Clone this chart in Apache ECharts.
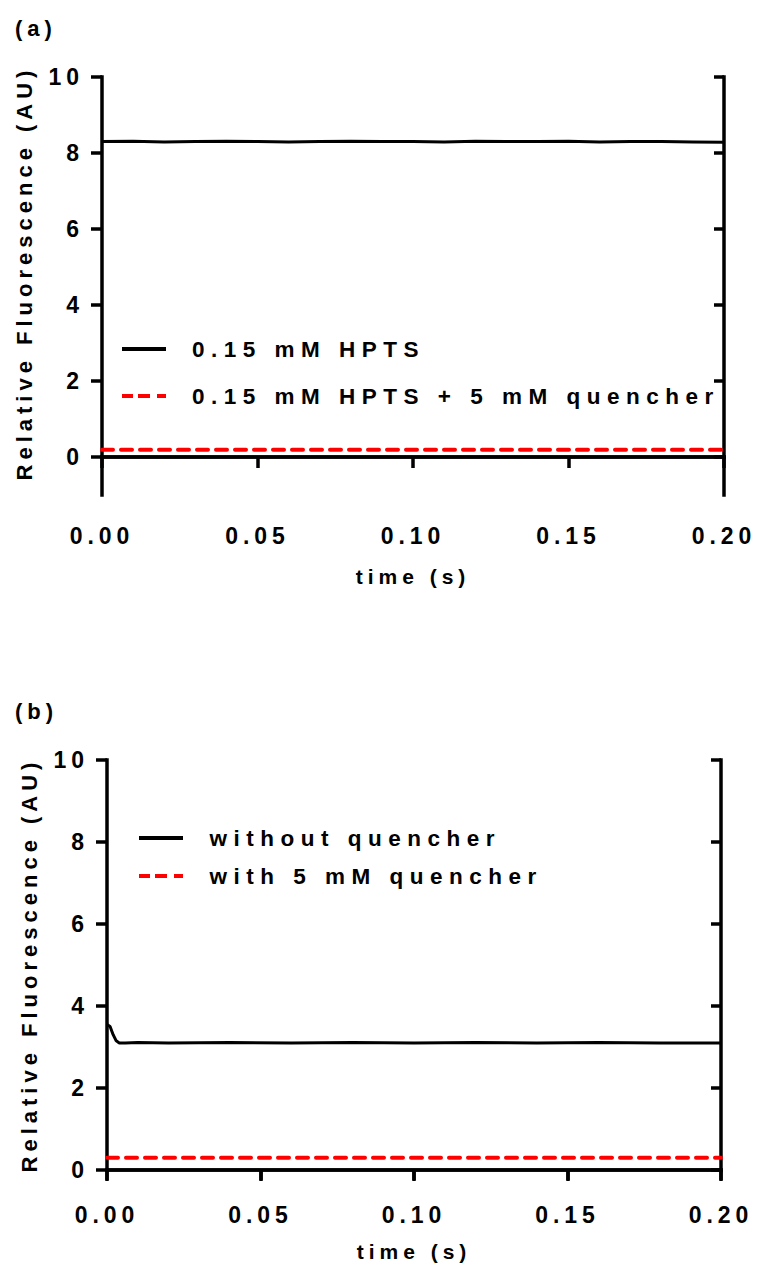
<!DOCTYPE html>
<html>
<head>
<meta charset="utf-8">
<script src="https://cdn.jsdelivr.net/npm/echarts@6/dist/echarts.min.js"></script>
<style>
    html, body { margin: 0; padding: 0; background: #fff; }
    #main { width: 757px; height: 1266px; }
    /* the source figure uses wide letter spacing on every label */
    #main text { letter-spacing: 5px; }
    /* legend entries are spaced a bit wider still */
    #main text[style*="22.5px"] { letter-spacing: 6.5px; }
</style>
</head>
<body>
<div id="main"></div>
<script type="text/javascript">
    // panel (a)
    var timeA = [0, 0.01, 0.02, 0.03, 0.04, 0.05, 0.06, 0.07, 0.08, 0.09, 0.10,
        0.11, 0.12, 0.13, 0.14, 0.15, 0.16, 0.17, 0.18, 0.19, 0.20];
    var hptsA = [8.30, 8.31, 8.29, 8.30, 8.31, 8.30, 8.29, 8.30, 8.31, 8.30, 8.30,
        8.29, 8.31, 8.30, 8.30, 8.31, 8.29, 8.30, 8.30, 8.29, 8.28];
    var quenchA = [0.19, 0.19, 0.19, 0.19, 0.19, 0.19, 0.19, 0.19, 0.19, 0.19, 0.19,
        0.19, 0.19, 0.19, 0.19, 0.19, 0.19, 0.19, 0.19, 0.19, 0.19];

    // panel (b)
    var timeB = [0, 0.001, 0.002, 0.003, 0.004, 0.006, 0.01, 0.02, 0.04, 0.06, 0.08,
        0.10, 0.12, 0.14, 0.16, 0.18, 0.20];
    var withoutB = [3.55, 3.50, 3.30, 3.15, 3.10, 3.10, 3.11, 3.10, 3.11, 3.10, 3.11,
        3.10, 3.11, 3.10, 3.11, 3.10, 3.10];
    var withB = [0.30, 0.30, 0.30, 0.30, 0.30, 0.30, 0.30, 0.30, 0.30, 0.30, 0.30,
        0.30, 0.30, 0.30, 0.30, 0.30, 0.30];

    var yTicks = [0, 2, 4, 6, 8, 10];

    var fontFam = '"Liberation Sans", Arial, sans-serif';

    // legend swatches: solid bar and dashed bar
    var solidIcon = 'path://M0,0H44V4H0Z';
    var dashIcon = 'path://M0,0H11V4H0ZM16,0H28V4H16ZM35,0H44V4H35Z';

    function pairs(xs, ys) {
        var out = [];
        for (var i = 0; i < xs.length; i++) {
            out.push([xs[i], ys[i]]);
        }
        return out;
    }

    var axisLine = {show: true, lineStyle: {color: '#000', width: 3.5, cap: 'square'}};

    function bottomAxis(grid, margin) {
        return {
            type: 'value', gridIndex: grid, position: 'bottom',
            min: 0, max: 0.2, interval: 0.05,
            axisLine: axisLine,
            axisTick: {show: true, inside: false, length: 11, lineStyle: {color: '#000', width: 3.5}},
            axisLabel: {
                show: true, margin: margin, color: '#000', fontSize: 23, fontWeight: 'bold', fontFamily: fontFam,
                formatter: function (v) { return v.toFixed(2); }
            },
            splitLine: {show: false},
            name: 'time (s)', nameLocation: 'middle', nameGap: 71,
            nameTextStyle: {color: '#000', fontSize: 21, fontWeight: 'bold', fontFamily: fontFam}
        };
    }

    function topAxis(grid, ticks) {
        return {
            type: 'value', gridIndex: grid, position: 'top',
            min: 0, max: 0.2, interval: 0.05,
            axisLine: axisLine,
            axisTick: {show: ticks, inside: true, length: 10, lineStyle: {color: '#000', width: 3.5}},
            axisLabel: {show: false},
            splitLine: {show: false}
        };
    }

    function leftAxis(grid, min, shift) {
        return {
            type: 'value', gridIndex: grid, position: 'left',
            min: min, max: 10,
            axisLine: Object.assign({onZero: false}, axisLine),
            axisTick: {show: true, inside: false, length: 11, customValues: yTicks,
                lineStyle: {color: '#000', width: 3.5}},
            axisLabel: {show: true, margin: 18, customValues: yTicks, color: '#000',
                fontSize: 23, fontWeight: 'bold', fontFamily: fontFam},
            splitLine: {show: false},
            name: 'Relative Fluorescence (AU)', nameLocation: 'middle', nameRotate: 90, nameGap: 67,
            nameTextStyle: {color: '#000', fontSize: 22, fontWeight: 'bold', fontFamily: fontFam,
                padding: [0, 0, 0, shift]}
        };
    }

    function rightAxis(grid, min) {
        return {
            type: 'value', gridIndex: grid, position: 'right',
            min: min, max: 10,
            axisLine: Object.assign({onZero: false}, axisLine),
            axisTick: {show: true, inside: true, length: 10, customValues: yTicks,
                lineStyle: {color: '#000', width: 3.5}},
            axisLabel: {show: false},
            splitLine: {show: false}
        };
    }

    var legendText = {color: '#000', fontSize: 22.5, fontWeight: 'bold', fontFamily: fontFam,
        lineHeight: 26, padding: [0, 0, 0, 21]};

    var myChart = echarts.init(document.getElementById('main'), null, {renderer: 'svg'});

    myChart.setOption({
        animation: false,
        backgroundColor: '#fff',
        title: [
            {text: '(a)', left: 10, top: 12,
                textStyle: {color: '#000', fontSize: 22, fontWeight: 'bold', fontFamily: fontFam}},
            {text: '(b)', left: 10, top: 695,
                textStyle: {color: '#000', fontSize: 22, fontWeight: 'bold', fontFamily: fontFam}}
        ],
        grid: [
            {left: 102, top: 77, width: 622, height: 418},
            {left: 107, top: 760, width: 614, height: 410}
        ],
        xAxis: [bottomAxis(0, 29), topAxis(0, false), bottomAxis(1, 33), topAxis(1, true)],
        yAxis: [leftAxis(0, -1, 26), rightAxis(0, -1), leftAxis(1, 0, 0), rightAxis(1, 0)],
        legend: [
            {
                data: [
                    {name: '0.15 mM HPTS', icon: solidIcon},
                    {name: '0.15 mM HPTS + 5 mM quencher', icon: dashIcon}
                ],
                orient: 'vertical', left: 117, top: 331,
                itemWidth: 44, itemHeight: 4, itemGap: 21,
                textStyle: legendText
            },
            {
                data: [
                    {name: 'without quencher', icon: solidIcon},
                    {name: 'with 5 mM quencher', icon: dashIcon}
                ],
                orient: 'vertical', left: 134, top: 820,
                itemWidth: 45, itemHeight: 4, itemGap: 12,
                textStyle: legendText
            }
        ],
        series: [
            {
                name: '0.15 mM HPTS', type: 'line', xAxisIndex: 0, yAxisIndex: 0,
                data: pairs(timeA, hptsA), symbol: 'none',
                lineStyle: {color: '#000', width: 3}, itemStyle: {color: '#000'}
            },
            {
                name: '0.15 mM HPTS + 5 mM quencher', type: 'line', xAxisIndex: 0, yAxisIndex: 0,
                data: pairs(timeA, quenchA), symbol: 'none',
                lineStyle: {color: '#ff0000', width: 4, type: [11, 8], cap: 'round'}, itemStyle: {color: '#ff0000'}
            },
            {
                name: 'without quencher', type: 'line', xAxisIndex: 2, yAxisIndex: 2,
                data: pairs(timeB, withoutB), symbol: 'none',
                lineStyle: {color: '#000', width: 3}, itemStyle: {color: '#000'}
            },
            {
                name: 'with 5 mM quencher', type: 'line', xAxisIndex: 2, yAxisIndex: 2,
                data: pairs(timeB, withB), symbol: 'none',
                lineStyle: {color: '#ff0000', width: 4, type: [11, 8], cap: 'round'}, itemStyle: {color: '#ff0000'}
            }
        ]
    });
</script>
</body>
</html>
